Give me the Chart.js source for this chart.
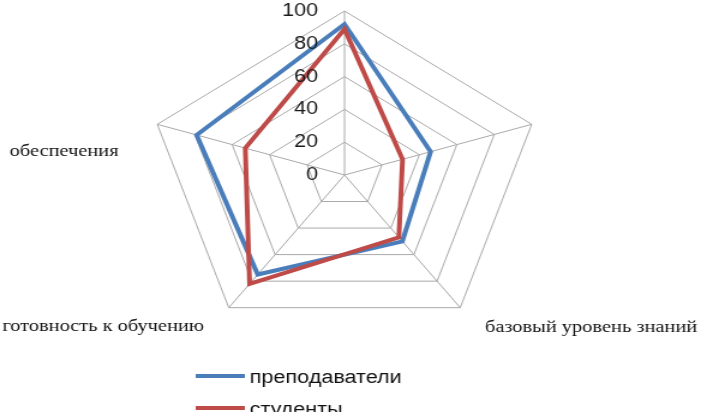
<!DOCTYPE html>
<html>
<head>
<meta charset="utf-8">
<script src="https://cdn.jsdelivr.net/npm/chart.js@4"></script>
<style>
  html, body { margin: 0; padding: 0; background: #fff; }
  /* the source picture is stretched sideways, so the canvas is too */
  #radar { display: block; width: 701px !important; height: 412px !important; }
</style>
</head>
<body>
<canvas id="radar" width="584" height="412" style="width:701px;height:412px"></canvas>
<script>
// axes, clockwise from the top (top and right names are lost in the scan)
const categories = ["", "", "базовый уровень знаний", "готовность к обучению", "обеспечения"];
const seriesNames = ["преподаватели", "студенты"];
const teachers = [92, 46, 50, 75, 79];
const students = [89, 31, 47, 82, 53];
const tickLabels = [0, 20, 40, 60, 80, 100];

const blue = "#4a7ebb";
const red = "#be4b48";

// where the axis names sit, in canvas pixels
const labelLayout = [
  null,
  null,
  { x: 404, y: 328, align: "left" },
  { x: 2, y: 327, align: "left" },
  { x: 8, y: 152, align: "left" }
];

// tick numbers to the left of the top axis, right aligned
const tickPlugin = {
  id: "tickText",
  afterDatasetsDraw(chart) {
    const r = chart.scales.r;
    const ctx = chart.ctx;
    ctx.save();
    ctx.font = "18px 'Liberation Sans', Arial, sans-serif";
    ctx.fillStyle = "#1a1a1a";
    ctx.textAlign = "right";
    ctx.textBaseline = "middle";
    tickLabels.forEach((t) => {
      const d = r.getDistanceFromCenterForValue(t);
      ctx.fillText(String(t), r.xCenter - 22, r.yCenter - d);
    });
    ctx.restore();
  }
};

const labelPlugin = {
  id: "axisNames",
  afterDraw(chart) {
    const ctx = chart.ctx;
    ctx.save();
    ctx.font = "17px 'Liberation Serif', 'Times New Roman', serif";
    ctx.fillStyle = "#111";
    ctx.textBaseline = "middle";
    categories.forEach((name, i) => {
      const p = labelLayout[i];
      if (!p || !name) return;
      ctx.textAlign = p.align;
      ctx.fillText(name, p.x, p.y);
    });
    ctx.restore();
  }
};

// stacked legend under the chart
const legendPlugin = {
  id: "stackLegend",
  afterDraw(chart) {
    const ctx = chart.ctx;
    ctx.save();
    ctx.font = "18px 'Liberation Sans', Arial, sans-serif";
    ctx.textBaseline = "middle";
    ctx.textAlign = "left";
    chart.data.datasets.forEach((ds, i) => {
      const y = 376 + i * 32;
      ctx.strokeStyle = ds.borderColor;
      ctx.lineWidth = 4;
      ctx.beginPath();
      ctx.moveTo(163, y);
      ctx.lineTo(204, y);
      ctx.stroke();
      ctx.fillStyle = "#111";
      ctx.fillText(ds.label, 208, y + 2);
    });
    ctx.restore();
  }
};

const ctx = document.getElementById("radar").getContext("2d");
new Chart(ctx, {
  type: "radar",
  data: {
    labels: categories,
    datasets: [
      {
        label: seriesNames[0],
        data: teachers,
        borderColor: blue,
        borderWidth: 4,
        fill: false,
        pointRadius: 0,
        order: 1
      },
      {
        label: seriesNames[1],
        data: students,
        borderColor: red,
        borderWidth: 4,
        fill: false,
        pointRadius: 0,
        order: 0
      }
    ]
  },
  options: {
    responsive: false,
    devicePixelRatio: 1,
    animation: false,
    layout: { padding: { top: 11, bottom: 73, left: 123, right: 133 } },
    plugins: {
      legend: { display: false },
      tooltip: { enabled: false }
    },
    scales: {
      r: {
        min: 0,
        max: 100,
        ticks: { stepSize: 20, display: false },
        pointLabels: { display: false },
        grid: { color: "#a9a9a9", lineWidth: 1 },
        angleLines: { color: "#a9a9a9", lineWidth: 1 }
      }
    }
  },
  plugins: [tickPlugin, labelPlugin, legendPlugin]
});
</script>
</body>
</html>
